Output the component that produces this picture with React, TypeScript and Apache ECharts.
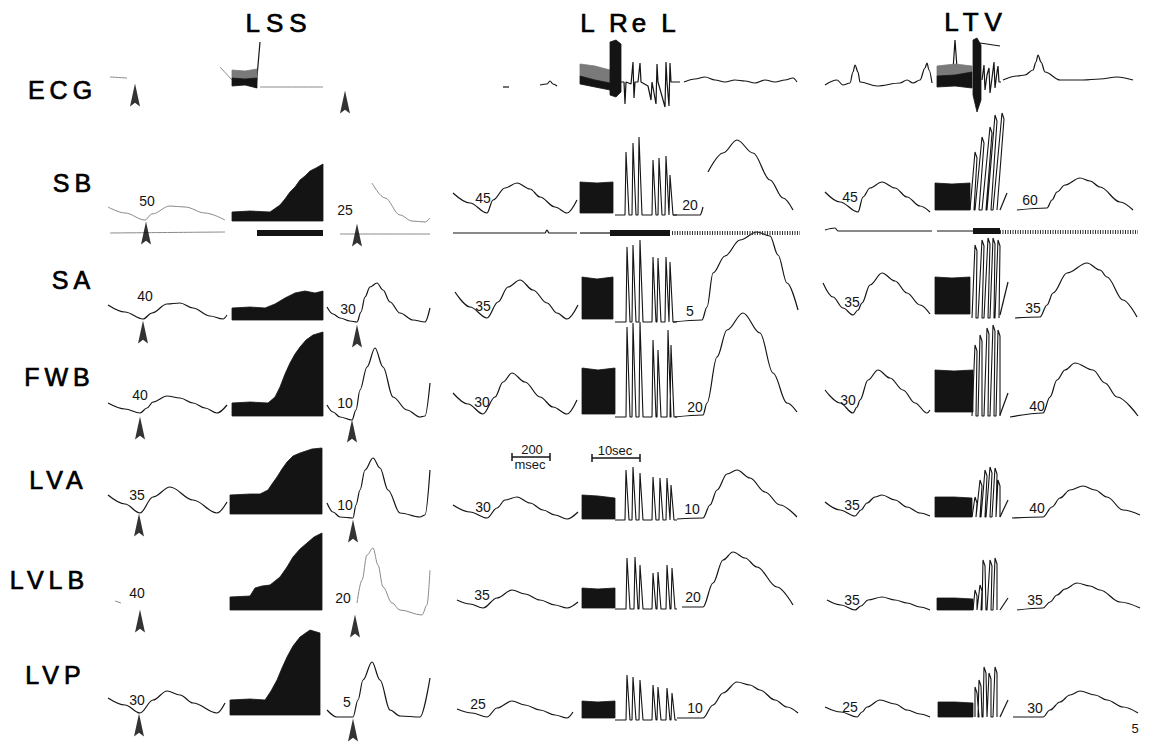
import React, { useEffect, useRef } from "react";
import * as echarts from "echarts";

// ---------- labels ----------
const rowNames = ["ECG", "SB", "SA", "FWB", "LVA", "LVLB", "LVP"];
const rowLabelAnchors = [[60, 90], [72, 183], [71, 280], [57, 377], [56, 480], [47, 580], [53, 675]];
const groupNames = ["LSS", "L Re L", "LTV"];
const groupTitleAnchors = [[276, 23], [628, 23], [973, 22]];

// threshold numbers (pre / post) per row and group
const thresholdValues = [
  "50", "25", "40", "30", "40", "10", "35", "10", "40", "20", "30", "5",
  "45", "20", "35", "5", "30", "20", "30", "10", "35", "20", "25", "10",
  "45", "60", "35", "35", "30", "40", "35", "40", "35", "35", "25", "30",
];
const thresholdAnchors = [
  [147, 201], [345, 210], [145, 296], [348, 309], [140, 395], [345, 403], [137, 495], [345, 505], [137, 593], [343, 598], [137, 700], [347, 702],
  [483, 198], [690, 205], [483, 306], [690, 311], [482, 402], [695, 407], [483, 507], [692, 509], [482, 595], [693, 597], [478, 704], [695, 708],
  [850, 197], [1030, 200], [852, 302], [1033, 308], [848, 400], [1037, 406], [852, 505], [1037, 508], [852, 600], [1035, 600], [850, 707], [1035, 708],
];

// ---------- waveform traces (trace units: horizontal sweep, vertical deflection) ----------
const lssWaves = [
  [[108, 305], [125, 312], [143, 319], [152, 313], [167, 304], [180, 303], [193, 308], [210, 316], [223, 319], [227, 315]],
  [[327, 307], [333, 314], [340, 318], [350, 321], [357, 322], [361, 312], [365, 297], [370, 287], [377, 283], [383, 290], [390, 302], [400, 313], [413, 320], [425, 322], [430, 308]],
  [[108, 403], [125, 409], [140, 413], [147, 408], [153, 402], [167, 396], [180, 398], [193, 403], [205, 408], [217, 413], [227, 405]],
  [[327, 405], [333, 412], [340, 417], [352, 420], [356, 410], [360, 390], [367, 367], [375, 348], [383, 367], [393, 397], [407, 410], [420, 417], [425, 416], [430, 383]],
  [[108, 495], [125, 504], [140, 513], [153, 497], [170, 487], [193, 500], [217, 513], [227, 502]],
  [[327, 503], [333, 512], [340, 517], [353, 518], [356, 505], [360, 490], [365, 470], [373, 458], [380, 468], [388, 490], [400, 513], [420, 517], [425, 515], [430, 470]],
  [[108, 698], [125, 705], [140, 713], [153, 700], [167, 691], [180, 695], [193, 703], [217, 713], [225, 703]],
  [[327, 710], [337, 717], [353, 717], [358, 700], [363, 680], [372, 662], [380, 680], [390, 710], [400, 716], [420, 717], [430, 678]],
];
const lssFaintWaves = [
  [[108, 207], [125, 213], [145, 220], [152, 214], [170, 206], [185, 207], [205, 213], [225, 220]],
  [[372, 183], [385, 198], [400, 215], [412, 221], [425, 222], [430, 218]],
  [[115, 601], [121, 603]],
  [[357, 603], [362, 580], [367, 555], [373, 548], [378, 565], [383, 587], [392, 603], [400, 610], [422, 615], [427, 605], [430, 570]],
  [[110, 77], [127, 78]],
  [[220, 67], [232, 80]],
  [[260, 87], [323, 87]],
  [[110, 233], [225, 232]],
  [[340, 234], [430, 234]],
];
const relWaves = [
  [[453, 193], [470, 203], [487, 213], [493, 200], [505, 188], [517, 183], [530, 189], [540, 197], [555, 207], [567, 213], [577, 200]],
  [[673, 215], [700, 215], [703, 207]],
  [[708, 172], [723, 153], [737, 140], [753, 153], [770, 180], [783, 198], [793, 210]],
  [[455, 292], [470, 307], [487, 318], [498, 302], [508, 287], [520, 280], [533, 290], [547, 303], [557, 313], [567, 319], [578, 305]],
  [[673, 322], [702, 320], [707, 307], [713, 273], [725, 256], [740, 240], [757, 232], [770, 236], [778, 255], [787, 283], [798, 310]],
  [[453, 393], [468, 404], [483, 414], [495, 397], [503, 382], [512, 373], [525, 382], [540, 397], [553, 407], [567, 414], [577, 400]],
  [[675, 417], [703, 415], [707, 403], [717, 357], [727, 330], [743, 313], [760, 333], [773, 373], [787, 403], [797, 412]],
  [[453, 505], [470, 512], [487, 518], [497, 508], [505, 500], [517, 497], [530, 503], [543, 510], [555, 515], [567, 519], [578, 512]],
  [[677, 519], [703, 518], [710, 505], [717, 490], [727, 474], [737, 470], [750, 478], [765, 492], [780, 505], [797, 517]],
  [[457, 600], [470, 604], [483, 608], [497, 598], [512, 590], [525, 594], [540, 600], [555, 605], [567, 608], [578, 602]],
  [[682, 607], [703, 607], [713, 583], [723, 560], [733, 552], [745, 558], [757, 567], [777, 587], [793, 605]],
  [[457, 709], [472, 713], [487, 717], [497, 708], [512, 701], [525, 705], [540, 710], [555, 715], [567, 718], [573, 712]],
  [[677, 718], [703, 718], [713, 705], [723, 693], [737, 682], [750, 685], [760, 690], [775, 700], [787, 707], [798, 713]],
  [[503, 87], [509, 87]],
  [[540, 85], [547, 84], [550, 81], [553, 84], [557, 86]],
  [[684, 82], [695, 79], [705, 77], [715, 80], [725, 82], [735, 80], [745, 81], [755, 83], [765, 80], [775, 82], [785, 80], [793, 78], [797, 82]],
  [[453, 233], [545, 233], [547, 230], [549, 233], [577, 233]],
  [[580, 233], [610, 233]],
];
const ltvWaves = [
  [[825, 85], [837, 80], [843, 85], [850, 83], [853, 72], [855, 65], [858, 72], [860, 82], [877, 86], [900, 83], [907, 80], [913, 83], [920, 80], [925, 68], [927, 63], [929, 70], [932, 83]],
  [[1003, 80], [1017, 76], [1025, 75], [1033, 70], [1036, 62], [1038, 55], [1041, 62], [1045, 72], [1060, 80], [1083, 80], [1100, 79], [1117, 77], [1133, 80]],
  [[825, 192], [840, 202], [858, 212], [863, 197], [870, 188], [882, 182], [895, 188], [907, 197], [920, 206], [930, 212]],
  [[1017, 210], [1047, 208], [1052, 200], [1057, 192], [1065, 185], [1080, 178], [1090, 181], [1100, 187], [1120, 202], [1133, 210]],
  [[823, 283], [833, 297], [843, 308], [853, 315], [858, 310], [862, 303], [870, 285], [882, 273], [895, 281], [907, 293], [920, 305], [930, 314]],
  [[1015, 318], [1040, 317], [1047, 305], [1053, 293], [1067, 273], [1087, 263], [1100, 270], [1107, 277], [1123, 300], [1137, 317]],
  [[825, 390], [840, 403], [853, 413], [857, 407], [860, 400], [868, 380], [878, 370], [890, 378], [903, 390], [915, 403], [927, 413], [930, 410]],
  [[1010, 417], [1043, 413], [1050, 397], [1057, 380], [1065, 370], [1075, 363], [1093, 370], [1105, 383], [1117, 397], [1138, 416]],
  [[825, 502], [840, 510], [855, 516], [861, 510], [867, 503], [875, 497], [882, 495], [895, 500], [907, 507], [920, 513], [930, 516]],
  [[1012, 518], [1043, 517], [1052, 507], [1060, 498], [1070, 490], [1083, 486], [1095, 490], [1107, 497], [1123, 510], [1140, 515]],
  [[827, 600], [841, 605], [855, 610], [861, 606], [868, 600], [882, 597], [895, 600], [907, 603], [920, 607], [930, 610]],
  [[1017, 610], [1043, 608], [1050, 602], [1057, 595], [1065, 589], [1077, 583], [1090, 586], [1100, 590], [1120, 602], [1140, 608]],
  [[825, 707], [841, 712], [857, 717], [862, 712], [867, 707], [880, 700], [895, 704], [907, 710], [920, 714], [930, 717]],
  [[1013, 717], [1043, 717], [1050, 710], [1060, 702], [1070, 695], [1080, 691], [1095, 695], [1107, 700], [1123, 707], [1138, 713]],
  [[1000, 210], [1007, 193]],
  [[1000, 315], [1008, 282]],
  [[1000, 415], [1008, 393]],
  [[1000, 517], [1008, 500]],
  [[1000, 610], [1008, 598]],
  [[1000, 717], [1008, 700]],
  [[825, 230], [835, 228], [838, 231], [932, 231]],
  [[937, 231], [973, 231]],
];

// ECG spike trains (straight segments)
const ecgSpikeTrains = [
  [[256, 88], [260, 42]],
  [[621, 82], [624, 82], [625, 104], [626, 82], [631, 84], [633, 62], [634, 98], [635, 82], [638, 82], [640, 63], [641, 82], [648, 86], [651, 100], [652, 82], [656, 104], [657, 64], [658, 82], [665, 107], [666, 62], [667, 82], [669, 106], [670, 63], [671, 82], [680, 82]],
  [[953, 70], [955, 40], [957, 68]],
  [[980, 43], [1000, 46]],
  [[982, 80], [984, 65], [985, 90], [987, 75], [989, 68], [990, 93], [992, 78], [994, 62], [995, 88], [997, 72], [998, 66], [999, 82], [1001, 82]],
];

// dense stimulation bursts: columns [sweep, upper envelope, lower envelope]
const bursts = [
  // LSS
  [[232, 78, 86], [245, 79, 85], [257, 78, 88]],
  [[232, 212, 221], [250, 211, 221], [270, 212, 221], [280, 205, 221], [285, 199, 221], [290, 192, 221], [295, 187, 221], [300, 180, 221], [305, 176, 221], [310, 171, 221], [316, 168, 221], [323, 164, 221]],
  [[232, 308, 320], [250, 307, 320], [265, 308, 320], [275, 304, 320], [285, 298, 320], [295, 293, 320], [305, 291, 320], [315, 293, 320], [323, 291, 320]],
  [[232, 403, 416], [250, 402, 416], [268, 403, 416], [275, 397, 416], [280, 387, 416], [285, 374, 416], [290, 363, 416], [295, 354, 416], [300, 347, 416], [306, 340, 416], [313, 335, 416], [323, 332, 416]],
  [[230, 495, 514], [250, 494, 514], [260, 494, 514], [268, 490, 514], [272, 484, 514], [277, 477, 514], [282, 469, 514], [287, 462, 514], [293, 456, 514], [300, 453, 514], [312, 449, 514], [322, 448, 514]],
  [[230, 597, 610], [250, 596, 610], [255, 588, 610], [262, 586, 610], [270, 585, 610], [280, 577, 610], [287, 567, 610], [293, 557, 610], [300, 549, 610], [307, 543, 610], [314, 537, 610], [322, 533, 610]],
  [[230, 700, 715], [250, 699, 715], [265, 700, 715], [271, 691, 715], [277, 680, 715], [282, 668, 715], [287, 657, 715], [293, 646, 715], [300, 637, 715], [310, 630, 715], [320, 633, 715]],
  // L Re L
  [[580, 76, 84], [595, 80, 87], [610, 83, 90]],
  [[610, 42, 95], [616, 40, 97], [621, 44, 92]],
  [[580, 182, 213], [597, 183, 213], [613, 182, 213]],
  [[582, 277, 319], [597, 279, 319], [613, 277, 319]],
  [[582, 368, 414], [598, 370, 414], [615, 368, 414]],
  [[582, 495, 519], [598, 496, 519], [615, 498, 519]],
  [[582, 588, 608], [598, 589, 608], [615, 588, 608]],
  [[582, 701, 718], [598, 702, 718], [615, 701, 718]],
  // LTV
  [[937, 76, 87], [955, 75, 86], [972, 72, 88]],
  [[973, 40, 95], [977, 38, 112], [981, 45, 100]],
  [[935, 183, 210], [952, 184, 210], [970, 183, 210]],
  [[935, 277, 314], [952, 278, 314], [970, 277, 314]],
  [[935, 370, 412], [954, 371, 412], [973, 370, 412]],
  [[935, 497, 517], [954, 497, 517], [972, 498, 517]],
  [[937, 598, 610], [955, 598, 610], [973, 599, 610]],
  [[938, 702, 717], [955, 702, 717], [973, 703, 717]],
];
// lighter, fuzzy part of the ECG bursts
const ecgFuzz = [
  [[232, 70, 78], [245, 71, 79], [257, 69, 78]],
  [[580, 64, 76], [595, 66, 80], [610, 70, 83]],
  [[937, 66, 76], [955, 64, 75], [972, 66, 72]],
];

// after-discharge spikes, L Re L
const relSpikeBase = [215, 322, 417, 520, 609, 720];
const relSpikeX = [
  [626, 633, 639, 653, 659, 666, 670],
  [627, 633, 640, 653, 658, 666, 670],
  [627, 633, 640, 653, 658, 668, 671],
  [626, 633, 640, 653, 660, 667, 671],
  [627, 635, 640, 653, 658, 667, 672],
  [627, 633, 640, 653, 658, 667, 672],
];
const relSpikeTop = [
  [152, 143, 137, 160, 158, 156, 175],
  [247, 245, 240, 257, 258, 257, 262],
  [327, 323, 322, 340, 350, 330, 345],
  [470, 467, 473, 477, 478, 478, 485],
  [558, 557, 565, 573, 572, 565, 568],
  [675, 677, 680, 685, 687, 688, 693],
];
// after-discharge spikes, LTV: [foot, tip, tip level]
const ltvSpikeBase = [210, 318, 416, 517, 610, 717];
const ltvSpikes = [
  [[970, 975, 152], [975, 982, 137], [982, 990, 127], [987, 995, 115], [993, 1002, 113]],
  [[972, 975, 245], [978, 982, 240], [984, 988, 238], [990, 993, 238], [995, 998, 240]],
  [[972, 975, 345], [978, 980, 335], [984, 987, 328], [990, 993, 325], [996, 998, 330]],
  [[972, 975, 497], [976, 980, 480], [981, 985, 470], [986, 990, 467], [992, 995, 468], [996, 998, 480]],
  [[973, 975, 590], [977, 980, 585], [982, 983, 560], [987, 990, 560], [993, 995, 558]],
  [[975, 975, 687], [978, 979, 680], [983, 984, 667], [987, 989, 673], [993, 995, 667]],
];

// stimulus marker channel (heavy bars) and noisy segments
const stimBars = [[[257, 233], [323, 233]], [[610, 233], [670, 233]], [[973, 231], [1000, 231]]];
const noisySegments = [[[672, 233], [800, 233]], [[1000, 232], [1138, 232]]];

// arrowheads (LSS stimulus markers)
const arrowheads = [
  [135, 95], [345, 102], [146, 233], [357, 235], [143, 332], [357, 336],
  [140, 428], [352, 431], [139, 525], [353, 531], [140, 621], [355, 626], [139, 725], [353, 730],
];

// calibration bars
const scaleBars = [[512, 550, 457], [592, 640, 458]];
const scaleTexts = ["200", "msec", "10sec"];
const scaleTextAnchors = [[532, 449], [530, 464], [615, 450]];
const pageNumber = "5";

const INK = "#141414";
const FONT = '"Liberation Sans", Arial, Helvetica, sans-serif';
const ROW_SPACING = 5;
const TITLE_SPACING = 6;

function lineSeries(data: number[][], color: string, width: number, smooth: number | boolean, extra: any = {}) {
  return {
    type: "line",
    data,
    showSymbol: false,
    symbol: "none",
    smooth,
    smoothMonotone: "x",
    silent: true,
    lineStyle: { color, width, ...(extra.lineStyle || {}) },
    z: extra.z || 2,
  };
}

export default function App() {
  const ref = useRef<HTMLDivElement>(null);
  useEffect(() => {
    if (!ref.current) return;
    const chart = echarts.init(ref.current, null, { renderer: "svg" });
    const series: any[] = [];
    lssWaves.forEach((w) => series.push(lineSeries(w, INK, 1.2, 0.35)));
    lssFaintWaves.forEach((w) => series.push(lineSeries(w, "#8a8a8a", 1, 0.35)));
    relWaves.forEach((w) => series.push(lineSeries(w, INK, 1.2, 0.35)));
    ltvWaves.forEach((w) => series.push(lineSeries(w, INK, 1.2, 0.35)));
    ecgSpikeTrains.forEach((w) => series.push(lineSeries(w, INK, 1.2, false)));
    relSpikeBase.forEach((base, r) => {
      const pts: number[][] = [[615, base]];
      relSpikeX[r].forEach((x, i) => {
        pts.push([x - 1, base], [x, relSpikeTop[r][i]], [x + 3, base]);
      });
      pts.push([677, base]);
      series.push(lineSeries(pts, INK, 1.1, false));
    });
    ltvSpikeBase.forEach((base, r) => {
      const pts: number[][] = [];
      ltvSpikes[r].forEach((s) => {
        pts.push([s[0], base], [s[1], s[2]], [s[1] + 2, s[2] + 6], [s[0] + 4, base]);
      });
      series.push(lineSeries(pts, INK, 1.1, false));
    });
    stimBars.forEach((b) => series.push(lineSeries(b, INK, 6, false)));
    noisySegments.forEach((b) =>
      series.push(lineSeries(b, "#333", 4, false, { lineStyle: { type: [1, 1.5] } }))
    );
    scaleBars.forEach((b) => {
      series.push(lineSeries([[b[0], b[2]], [b[1], b[2]]], INK, 1.5, false));
      series.push(lineSeries([[b[0], b[2] - 4], [b[0], b[2] + 4]], INK, 1.5, false));
      series.push(lineSeries([[b[1], b[2] - 4], [b[1], b[2] + 4]], INK, 1.5, false));
    });
    const polySeries = (list: number[][][], fill: string) => ({
      type: "custom",
      coordinateSystem: "cartesian2d",
      silent: true,
      z: 3,
      data: list.map((b, i) => [b[0][0], b[0][1], i]),
      renderItem: (params: any, api: any) => {
        const b = list[params.dataIndex];
        const top = b.map((c) => api.coord([c[0], c[1]]));
        const bot = b.slice().reverse().map((c) => api.coord([c[0], c[2]]));
        return {
          type: "polygon",
          shape: { points: top.concat(bot) },
          style: { fill, stroke: fill, lineWidth: 0.8 },
        };
      },
    });
    series.push(polySeries(ecgFuzz, "#7a7a7a"));
    series.push(polySeries(bursts, INK));
    series.push({
      type: "scatter",
      data: arrowheads,
      symbol: "path://M5,0 L10,24 L5,20 L0,24 Z",
      symbolSize: [10, 23],
      itemStyle: { color: "#000" },
      silent: true,
      z: 4,
    });

    const boldish = { stroke: "#000", lineWidth: 0.7 };
    const texts: any[] = [];
    rowNames.forEach((t, i) =>
      texts.push({
        type: "text",
        x: rowLabelAnchors[i][0] + ROW_SPACING / 2,
        y: rowLabelAnchors[i][1],
        style: { text: t, fill: "#000", ...boldish, font: `25px ${FONT}`, textAlign: "center", textVerticalAlign: "middle" },
      })
    );
    groupNames.forEach((t, i) =>
      texts.push({
        type: "text",
        x: groupTitleAnchors[i][0] + (i === 1 ? 2 : TITLE_SPACING / 2),
        y: groupTitleAnchors[i][1],
        style: { text: t, fill: "#000", ...boldish, font: `26px ${FONT}`, textAlign: "center", textVerticalAlign: "middle" },
      })
    );
    thresholdValues.forEach((t, i) =>
      texts.push({
        type: "text",
        x: thresholdAnchors[i][0],
        y: thresholdAnchors[i][1],
        style: { text: t, fill: INK, font: `14px ${FONT}`, textAlign: "center", textVerticalAlign: "middle" },
      })
    );
    scaleTexts.forEach((t, i) =>
      texts.push({
        type: "text",
        x: scaleTextAnchors[i][0],
        y: scaleTextAnchors[i][1],
        style: { text: t, fill: INK, font: `13px ${FONT}`, textAlign: "center", textVerticalAlign: "middle" },
      })
    );
    texts.push({
      type: "text",
      x: 1135,
      y: 728,
      style: { text: pageNumber, fill: INK, font: `13px ${FONT}`, textAlign: "center", textVerticalAlign: "middle" },
    });

    const spacing: Record<string, number> = { "L Re L": 4 };
    rowNames.forEach((t) => (spacing[t] = ROW_SPACING));
    ["LSS", "LTV"].forEach((t) => (spacing[t] = TITLE_SPACING));
    const applySpacing = () => {
      const root = ref.current;
      if (!root) return;
      root.querySelectorAll("text").forEach((n) => {
        const sp = spacing[(n.textContent || "").trim()];
        if (sp) n.setAttribute("letter-spacing", String(sp));
      });
    };
    chart.on("finished", applySpacing);
    chart.on("rendered", applySpacing);

    chart.setOption({
      animation: false,
      backgroundColor: "#ffffff",
      grid: { left: 0, top: 0, right: 0, bottom: 0, containLabel: false },
      xAxis: { type: "value", min: 0, max: 1150, show: false },
      yAxis: { type: "value", min: 0, max: 742, inverse: true, show: false },
      series,
      graphic: texts,
    });
    applySpacing();
    const raf = requestAnimationFrame(applySpacing);
    const tm = setTimeout(applySpacing, 50);
    return () => {
      cancelAnimationFrame(raf);
      clearTimeout(tm);
      chart.dispose();
    };
  }, []);
  return (
    <div
      ref={ref}
      style={{ position: "absolute", left: 0, top: 0, width: 1150, height: 742, background: "#fff" }}
    />
  );
}
